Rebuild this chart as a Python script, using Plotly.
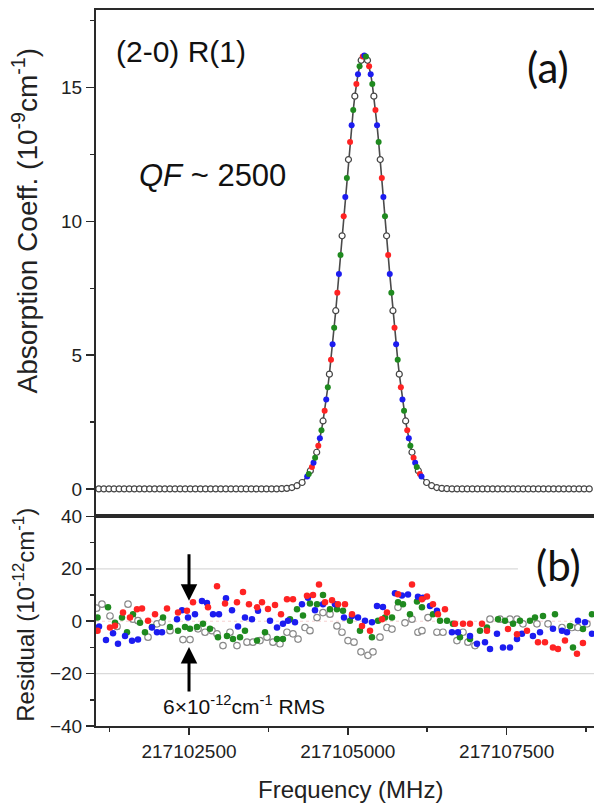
import plotly.graph_objects as go

FREQ_BASE = 217100000  # MHz; all frequency lists below are offsets (MHz) from this base

# ---------------- Panel (a): absorption spectrum ----------------
wing_left_offset = [1080, 1160, 1240, 1320, 1400, 1480, 1560, 1640, 1720, 1800, 1880, 1960, 2040,
                    2120, 2200, 2280, 2360, 2440, 2520, 2600, 2680, 2760, 2840, 2920, 3000, 3080,
                    3160, 3240, 3320, 3400, 3480, 3560, 3640, 3720, 3800, 3880, 3960, 4040, 4120,
                    4200, 4280]
wing_left_abs = [0.0, 0.0, 0.0, 0.0, 0.0, 0.0, 0.0, 0.0, 0.0, 0.0, 0.0, 0.0, 0.0,
                 0.0, 0.0, 0.0, 0.0, 0.0, 0.0, 0.0, 0.0, 0.0, 0.0, 0.0, 0.0, 0.0,
                 0.0, 0.0, 0.0, 0.0, 0.0, 0.0, 0.0, 0.0, 0.0, 0.0, 0.01, 0.02, 0.05,
                 0.12, 0.24]

peak_offset = [4360, 4385, 4410, 4435, 4460, 4485, 4510, 4535, 4560, 4585, 4610, 4635, 4660, 4685,
               4710, 4735, 4760, 4785, 4810, 4835, 4860, 4885, 4910, 4935, 4960, 4985, 5010, 5035,
               5060, 5085, 5110, 5135, 5160, 5185, 5210, 5235, 5260, 5285, 5310, 5335, 5360, 5385,
               5410, 5435, 5460, 5485, 5510, 5535, 5560, 5585, 5610, 5635, 5660, 5685, 5710, 5735,
               5760, 5785, 5810, 5835, 5860, 5885, 5910, 5935, 5960, 5985, 6010, 6035, 6060, 6085,
               6110, 6135, 6160]
peak_abs = [0.46, 0.56, 0.68, 0.82, 0.98, 1.16, 1.37, 1.61, 1.89, 2.19, 2.54, 2.92, 3.34, 3.80,
            4.29, 4.83, 5.41, 6.02, 6.66, 7.33, 8.03, 8.74, 9.46, 10.19, 10.91, 11.62, 12.31, 12.97,
            13.59, 14.16, 14.68, 15.13, 15.50, 15.80, 16.02, 16.16, 16.20, 16.16, 16.02, 15.80,
            15.50, 15.13, 14.68, 14.16, 13.59, 12.97, 12.31, 11.62, 10.91, 10.19, 9.46, 8.74, 8.03,
            7.33, 6.66, 6.02, 5.41, 4.83, 4.29, 3.80, 3.34, 2.92, 2.54, 2.19, 1.89, 1.61, 1.37,
            1.16, 0.98, 0.82, 0.68, 0.56, 0.46]

wing_right_offset = [6240, 6320, 6400, 6480, 6560, 6640, 6720, 6800, 6880, 6960, 7040, 7120, 7200,
                     7280, 7360, 7440, 7520, 7600, 7680, 7760, 7840, 7920, 8000, 8080, 8160, 8240,
                     8320, 8400, 8480, 8560, 8640, 8720, 8800]
wing_right_abs = [0.24, 0.12, 0.05, 0.02, 0.01, 0.0, 0.0, 0.0, 0.0, 0.0, 0.0, 0.0, 0.0,
                  0.0, 0.0, 0.0, 0.0, 0.0, 0.0, 0.0, 0.0, 0.0, 0.0, 0.0, 0.0, 0.0,
                  0.0, 0.0, 0.0, 0.0, 0.0, 0.0, 0.0]

# the four interleaved scans on the peak, repeating in frequency order
peak_scan_cycle = ["blue", "green", "open", "red"]

# ---------------- Panel (b): residuals (1e-12 cm^-1) ----------------
res_red_offset = [1060, 1256, 1335, 1461, 1571, 1681, 1760, 1855, 1965, 2154, 2327, 2468, 2563, 2799,
                  2941, 3067, 3255, 3350, 3444, 3570, 3649, 3743, 3854, 3948, 4042, 4137, 4357, 4452,
                  4546, 4641, 4751, 4845, 4955, 5066, 5223, 5349, 5538, 5616, 5790, 6010, 6167, 6246,
                  6340, 6419, 6529, 6687, 6813, 6923, 7112, 7190, 7521, 7663, 7820, 7993, 8103, 8229,
                  8308, 8418, 8607, 8701]
res_red = [-3.6, -2.4, -1.7, 3.3, 1.4, 4.6, 4.9, 0.2, 2.7, 4.9, 3.3, 4.0, 7.2, 5.3,
           13.4, 6.8, 7.2, 11.2, 6.5, 5.3, 7.2, 4.7, 6.2, 2.7, 8.4, 8.4, 9.7, 10.0,
           14.0, 7.2, 8.0, 6.5, 6.5, 2.7, -1.8, -3.6, 0.8, 3.3, 10.3, 14.0, 8.4, 9.4,
           6.5, 2.7, 4.6, -1.0, -1.0, -1.0, -1.0, -3.6, -3.0, -5.0, -3.6, -8.0, -8.0, -10.0,
           -10.6, -7.4, -12.4, -8.3]

res_blue_offset = [1083, 1193, 1304, 1382, 1493, 1603, 1697, 1917, 1996, 2075, 2311, 2390, 2484, 2594,
                   2704, 2783, 2878, 2972, 3082, 3177, 3271, 3381, 3491, 3586, 3775, 3885, 3979, 4058,
                   4168, 4278, 4373, 4483, 4609, 4798, 4940, 5065, 5160, 5270, 5380, 5459, 5553, 5742,
                   5852, 5947, 6104, 6183, 6293, 6403, 6639, 6734, 6923, 7033, 7159, 7238, 7348, 7442,
                   7552, 7663, 7741, 7914, 8025, 8229, 8371, 8450, 8623, 8733, 8843]
res_blue = [-2.0, -7.2, -4.6, -8.6, -5.6, -7.5, -7.0, -2.4, -4.2, -4.2, 0.8, 4.2, 1.4, 2.7,
            7.7, 7.0, 2.7, 2.7, 8.8, 4.2, -2.0, 1.4, 0.8, 4.0, 0.2, -2.4, -1.0, 0.2,
            -0.4, 6.5, 9.0, 4.2, 6.5, 6.5, 1.4, 2.0, 1.4, 0.2, -0.4, 5.8, 5.4, 10.7,
            9.8, 10.2, 9.3, 9.0, 5.8, 4.0, -4.2, -4.2, -5.6, -8.6, -8.0, -10.6, -4.8, -10.0,
            -10.0, -6.8, -4.8, -5.6, -4.2, -2.9, -3.6, -4.2, 0.2, -0.4, -4.8]

res_green_offset = [1060, 1225, 1335, 1445, 1524, 1618, 1729, 1807, 1917, 2091, 2201, 2327, 2437, 2516,
                    2626, 2720, 2830, 2956, 3098, 3192, 3303, 3381, 3570, 3696, 3885, 3979, 4090, 4200,
                    4294, 4404, 4515, 4609, 4719, 4829, 4924, 5034, 5191, 5380, 5475, 5585, 5695, 5790,
                    5868, 5978, 6089, 6167, 6340, 6451, 6561, 6655, 6765, 6923, 7080, 7190, 7364, 7474,
                    7600, 7710, 7867, 7946, 8072, 8261, 8497, 8544, 8701, 8843]
res_green = [1.4, 5.3, -0.6, 1.4, -4.2, 2.7, -0.6, -4.2, -2.2, 1.4, -2.2, -3.6, -2.2, -2.9,
             -2.2, -1.0, -2.9, -6.1, -5.6, -6.8, -6.1, -3.6, -7.4, -4.2, -6.8, -6.8, 0.8, 4.6,
             2.2, 6.8, 6.5, 10.0, 4.6, 4.6, 4.0, 0.2, -3.6, -6.1, 0.2, 1.4, 1.4, 7.2,
             6.5, 2.7, 7.5, 5.3, 2.7, 0.2, 0.2, -1.0, -6.1, -6.8, -3.6, -2.4, 0.8, 0.2,
             -1.0, 0.2, 0.2, 1.4, 2.0, 2.7, -1.8, -10.0, -3.0, 2.7]

res_open_offset = [1045, 1130, 1256, 1367, 1540, 1618, 1697, 1855, 1996, 2075, 2201, 2405, 2516, 2642,
                   2752, 2862, 2941, 3035, 3145, 3255, 3413, 3507, 3617, 3728, 3822, 3932, 4042, 4137,
                   4216, 4326, 4404, 4515, 4609, 4719, 4829, 4908, 5003, 5097, 5207, 5317, 5396, 5506,
                   5616, 5695, 5790, 5900, 6010, 6104, 6167, 6262, 6403, 6498, 6718, 6813, 6891, 7002,
                   7238, 7395, 7552, 7663, 7757, 7977, 8151, 8371, 8528, 8623, 8764]
res_open = [5.0, 6.5, 2.0, -2.0, 6.5, 0.8, 0.2, -6.1, -1.0, -0.3, -3.6, -7.0, -7.0, -2.9,
            -4.2, -3.6, -4.8, -9.3, -4.2, -9.3, -8.0, -8.0, -7.4, -6.1, -8.0, -8.6, -4.2, -4.8,
            -6.8, -2.4, -3.6, 1.4, 3.3, 2.7, -1.8, -4.2, -7.4, -8.0, -11.7, -13.0, -11.7, -6.1,
            -2.4, -3.0, 5.3, -0.6, 0.8, -4.2, -3.6, 1.4, -4.2, -4.2, -7.4, -4.2, -8.0, -9.3,
            0.8, 0.8, 0.8, 0.8, -1.0, -1.0, -1.0, -2.4, -2.4, -2.4, -1.0]

x_range = [217101036, 217108875]
x_major_tick0 = 217100000
rms_marker_freq = 217102500
grid_plus20_end = 217107678

# ---------------- styles ----------------
COL = {"red": "#ff2323", "blue": "#1c1cf0", "green": "#1f8a1f", "open": "white"}
EDGE_TOP = "#444444"
EDGE_RES = "#8a8a8a"
AX = "#2a2a2a"
FONT = "Liberation Sans, Arial, sans-serif"

fig = go.Figure()

# fitted profile line through the full spectrum
all_off = wing_left_offset + peak_offset + wing_right_offset
all_abs = wing_left_abs + peak_abs + wing_right_abs
fig.add_trace(go.Scatter(x=[FREQ_BASE + o for o in all_off], y=all_abs, mode="lines",
                         line=dict(color="#4a4a4a", width=1.6), xaxis="x", yaxis="y",
                         hoverinfo="skip"))

# open circles: wings + the open-circle scan on the peak
open_x = [FREQ_BASE + o for o in wing_left_offset]
open_y = list(wing_left_abs)
for i, (o, v) in enumerate(zip(peak_offset, peak_abs)):
    if peak_scan_cycle[i % 4] == "open":
        open_x.append(FREQ_BASE + o)
        open_y.append(v)
open_x += [FREQ_BASE + o for o in wing_right_offset]
open_y += list(wing_right_abs)
fig.add_trace(go.Scatter(x=open_x, y=open_y, mode="markers", xaxis="x", yaxis="y",
                         marker=dict(size=6, color="white", line=dict(color=EDGE_TOP, width=1.2))))

for name in ["red", "blue", "green"]:
    xs = [FREQ_BASE + o for i, o in enumerate(peak_offset) if peak_scan_cycle[i % 4] == name]
    ys = [v for i, v in enumerate(peak_abs) if peak_scan_cycle[i % 4] == name]
    fig.add_trace(go.Scatter(x=xs, y=ys, mode="markers", xaxis="x", yaxis="y",
                             marker=dict(size=6, color=COL[name], line=dict(width=0))))

# residuals
fig.add_trace(go.Scatter(x=[FREQ_BASE + o for o in res_open_offset], y=res_open, mode="markers",
                         xaxis="x2", yaxis="y2",
                         marker=dict(size=6.5, color="white", line=dict(color=EDGE_RES, width=1.2))))
for name, offs, vals in [("green", res_green_offset, res_green),
                         ("blue", res_blue_offset, res_blue),
                         ("red", res_red_offset, res_red)]:
    fig.add_trace(go.Scatter(x=[FREQ_BASE + o for o in offs], y=vals, mode="markers",
                             xaxis="x2", yaxis="y2",
                             marker=dict(size=6.5, color=COL[name], line=dict(width=0))))

# plot area: x 96..594 px, y 5..726 px; lower panel 515..726
split = 211 / 721

tick_common = dict(ticks="outside", tickwidth=1.5, tickcolor=AX, showline=True, linecolor=AX,
                   linewidth=2, showgrid=False, zeroline=False,
                   tickfont=dict(family=FONT, size=19, color="#222"))

fig.update_layout(
    width=594, height=807,
    margin=dict(l=96, r=0, t=5, b=81),
    paper_bgcolor="white", plot_bgcolor="white",
    showlegend=False, hovermode=False,
    font=dict(family=FONT, color="#222"),
    xaxis=dict(domain=[0, 1], anchor="y", range=x_range, showticklabels=False, ticks="",
               showline=True, mirror=True, linecolor=AX, linewidth=2, showgrid=False,
               zeroline=False),
    yaxis=dict(domain=[split, 1], anchor="x", range=[-1.03, 17.90], tick0=0, dtick=5,
               ticklen=8, minor=dict(dtick=2.5, ticks="outside", ticklen=4, tickwidth=1.5,
                                     tickcolor=AX), **tick_common),
    xaxis2=dict(domain=[0, 1], anchor="y2", range=x_range, tick0=x_major_tick0, dtick=2500,
                tickformat="d", ticklen=7, mirror=True,
                minor=dict(dtick=1250, ticks="outside", ticklen=4, tickwidth=1.5, tickcolor=AX),
                **tick_common),
    yaxis2=dict(domain=[0, split], anchor="x2", range=[-40, 40], tick0=0, dtick=20, ticklen=8,
                minor=dict(dtick=10, ticks="outside", ticklen=4, tickwidth=1.5, tickcolor=AX),
                **tick_common),
)

# light reference lines in residual panel
fig.add_shape(type="line", xref="x2", yref="y2", x0=x_range[0], x1=grid_plus20_end, y0=20, y1=20,
              line=dict(color="#dadada", width=1.3), layer="below")
fig.add_shape(type="line", xref="x2", yref="y2", x0=x_range[0], x1=x_range[1], y0=-20, y1=-20,
              line=dict(color="#dadada", width=1.3), layer="below")
fig.add_shape(type="line", xref="x2", yref="y2", x0=x_range[0], x1=x_range[1], y0=0, y1=0,
              line=dict(color="rgba(235,150,150,0.45)", width=1, dash="dot"), layer="below")


def px_x(px):
    return (px - 96) / 498


def px_y(py):
    return (726 - py) / 721


ann = [
    dict(text="Absorption Coeff. (10<sup>-9</sup>cm<sup>-1</sup>)", xref="paper", yref="paper",
         x=0, xshift=-71, y=px_y(217), textangle=-90, xanchor="center", yanchor="middle",
         showarrow=False, font=dict(family=FONT, size=28, color="#222")),
    dict(text="Residual (10<sup>-12</sup>cm<sup>-1</sup>)", xref="paper", yref="paper",
         x=0, xshift=-72, y=px_y(614), textangle=-90, xanchor="center", yanchor="middle",
         showarrow=False, font=dict(family=FONT, size=24, color="#222")),
    dict(text="Frequency (MHz)", xref="paper", yref="paper", x=px_x(350), y=px_y(790),
         xanchor="center", yanchor="middle", showarrow=False,
         font=dict(family=FONT, size=24, color="#222")),
    dict(text="(2-0) R(1)", xref="paper", yref="paper", x=px_x(114), y=px_y(47),
         xanchor="left", yanchor="middle", showarrow=False,
         font=dict(family=FONT, size=30, color="#111")),
    dict(text="<i>QF</i> ~ 2500", xref="paper", yref="paper", x=px_x(137), y=px_y(172),
         xanchor="left", yanchor="middle", showarrow=False,
         font=dict(family=FONT, size=31, color="#111")),
    dict(text="(a)", xref="paper", yref="paper", x=px_x(548), y=px_y(62),
         xanchor="center", yanchor="middle", showarrow=False,
         font=dict(family="Lato, Open Sans, sans-serif", size=42, color="#111")),
    dict(text="(b)", xref="paper", yref="paper", x=px_x(558), y=px_y(564),
         xanchor="center", yanchor="middle", showarrow=False,
         font=dict(family="Lato, Open Sans, sans-serif", size=42, color="#111")),
    dict(text="6×10<sup>-12</sup>cm<sup>-1</sup> RMS", xref="paper", yref="paper",
         x=px_x(161), y=px_y(705), xanchor="left", yanchor="middle", showarrow=False,
         font=dict(family=FONT, size=21, color="#111")),
    dict(text="", xref="x2", yref="y2", axref="x2", ayref="y2", x=rms_marker_freq, y=7.8,
         ax=rms_marker_freq, ay=26.1, showarrow=True, arrowhead=2, arrowsize=1.1,
         arrowwidth=3, arrowcolor="black"),
    dict(text="", xref="x2", yref="y2", axref="x2", ayref="y2", x=rms_marker_freq, y=-9.8,
         ax=rms_marker_freq, ay=-27.4, showarrow=True, arrowhead=2, arrowsize=1.1,
         arrowwidth=3, arrowcolor="black"),
]
fig.update_layout(annotations=ann)

fig.write_html("out.html", config={"displayModeBar": False, "staticPlot": True})
